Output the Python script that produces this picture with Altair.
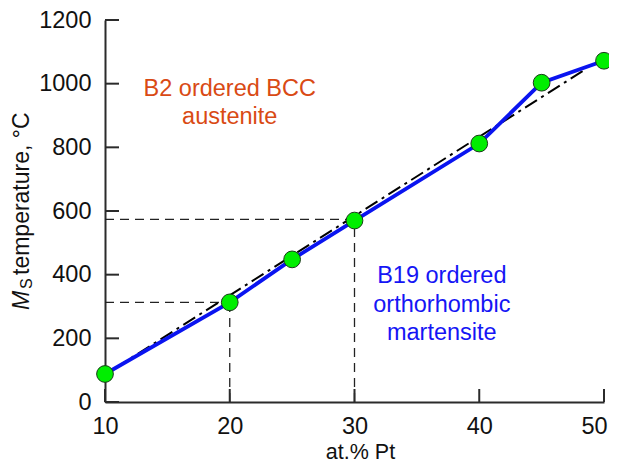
import altair as alt
import pandas as pd

# data
pt = [10, 20, 25, 30, 40, 45, 50]
ms = [88, 313, 448, 570, 812, 1003, 1072]
fit_x = [10.8, 48.3]
fit_y = [106, 1040]
guide_x = [20, 10, 30, 10]
guide_x2 = [20, 20, 30, 30]
guide_y = [0, 313, 0, 574]
guide_y2 = [313, 313, 574, 574]
x_ticks = [10, 20, 30, 40, 50]
y_ticks = [0, 200, 400, 600, 800, 1000, 1200]

FONT = "Liberation Sans"
W, H = 499, 382

pts = pd.DataFrame({"x": pt, "y": ms})
fit = pd.DataFrame({"x": fit_x, "y": fit_y})
guides = pd.DataFrame({"x": guide_x, "x2": guide_x2, "y": guide_y, "y2": guide_y2})

xs = alt.Scale(domain=[10, 50], nice=False, zero=False)
ys = alt.Scale(domain=[0, 1200], nice=False)

xaxis = alt.Axis(values=x_ticks, ticks=False, grid=False, labelFontSize=23.5, labelFont=FONT,
                 labelColor="#111", labelPadding=12, domainColor="#2b2b2b", domainWidth=2,
                 title="at.% Pt", titleFont=FONT, titleFontSize=21.5, titleFontWeight="normal",
                 titleColor="#111", titleX=255, titleY=56, titleBaseline="alphabetic",
                 labelFlush=False, format="d",
                 labelOffset={"expr": "datum.value == 50 ? -10 : 0"})
yaxis = alt.Axis(values=y_ticks, ticks=False, grid=False, labelFontSize=23.5, labelFont=FONT,
                 labelColor="#111", labelPadding=14, domainColor="#2b2b2b", domainWidth=2,
                 title=None, labelFlush=False, format="d")

base_axes = alt.Chart(pts).mark_point(opacity=0).encode(
    x=alt.X("x:Q", scale=xs, axis=xaxis),
    y=alt.Y("y:Q", scale=ys, axis=yaxis),
)

guide_layer = alt.Chart(guides).mark_rule(color="#222", strokeWidth=1.3, strokeDash=[9, 6]).encode(
    x=alt.X("x:Q", scale=xs), x2="x2:Q", y=alt.Y("y:Q", scale=ys), y2="y2:Q"
)

fit_layer = alt.Chart(fit).mark_line(color="#000", strokeWidth=2, strokeDash=[14, 5, 3, 5]).encode(
    x=alt.X("x:Q", scale=xs), y=alt.Y("y:Q", scale=ys)
)

line_layer = alt.Chart(pts).mark_line(color="#0a14f0", strokeWidth=3.8).encode(
    x=alt.X("x:Q", scale=xs), y=alt.Y("y:Q", scale=ys)
)

point_layer = alt.Chart(pts).mark_point(
    filled=True, fill="#00ee00", stroke="#1a3a1a", strokeWidth=1, size=280, opacity=1, shape="circle"
).encode(x=alt.X("x:Q", scale=xs), y=alt.Y("y:Q", scale=ys))

xt = pd.DataFrame({"x": x_ticks})
yt = pd.DataFrame({"y": y_ticks})
xtick_layer = alt.Chart(xt).mark_rule(color="#2b2b2b", strokeWidth=2).encode(
    x=alt.X("x:Q", scale=xs), y=alt.value(H), y2=alt.value(H - 13)
)
ytick_layer = alt.Chart(yt).mark_rule(color="#2b2b2b", strokeWidth=2).encode(
    y=alt.Y("y:Q", scale=ys), x=alt.value(0), x2=alt.value(14)
)

ann = pd.DataFrame({
    "x": [20, 37],
    "y": [962, 373],
    "t": ["B2 ordered BCC\naustenite", "B19 ordered\northorhombic\nmartensite"],
    "c": ["#D94A14", "#1515F5"],
})
ann_layer = alt.Chart(ann).mark_text(
    font=FONT, fontSize=23.5, lineBreak="\n", lineHeight=28.5, align="center", baseline="alphabetic"
).encode(
    x=alt.X("x:Q", scale=xs), y=alt.Y("y:Q", scale=ys), text="t:N",
    color=alt.Color("c:N", scale=None),
)

m_layer = alt.Chart(pd.DataFrame({"t": ["M"]})).mark_text(
    font=FONT, fontSize=23, fontStyle="italic", angle=270, align="left", baseline="alphabetic", color="#111"
).encode(text="t:N", x=alt.value(-76), y=alt.value(290))
s_layer = alt.Chart(pd.DataFrame({"t": ["S"]})).mark_text(
    font=FONT, fontSize=16, angle=270, align="left", baseline="alphabetic", color="#111"
).encode(text="t:N", x=alt.value(-73), y=alt.value(269))
t_layer = alt.Chart(pd.DataFrame({"t": ["temperature, °C"]})).mark_text(
    font=FONT, fontSize=23, angle=270, align="left", baseline="alphabetic", color="#111"
).encode(text="t:N", x=alt.value(-76), y=alt.value(255))

chart = alt.layer(
    base_axes, guide_layer, fit_layer, line_layer, point_layer,
    xtick_layer, ytick_layer, ann_layer, m_layer, s_layer, t_layer
).properties(
    width=W, height=H,
    autosize=alt.AutoSizeParams(type="none"),
    padding={"left": 97, "top": 12, "right": 5, "bottom": 62},
    background="white",
).configure_view(stroke=None)

chart.save("out.html", embed_options={"renderer": "svg", "actions": False})
